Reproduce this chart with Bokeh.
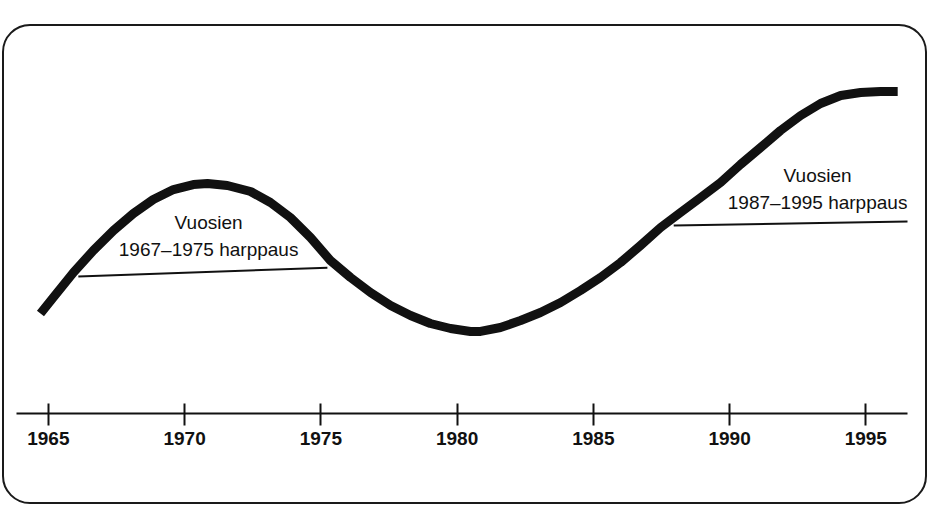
from bokeh.plotting import figure
from bokeh.models import FixedTicker, Range1d
from bokeh.core.properties import value
from bokeh.embed import file_html
from bokeh.resources import INLINE

# --- data ---
years = [1964.71, 1965.18, 1965.92, 1966.65, 1967.39, 1968.12, 1968.85, 1969.59,
         1970.32, 1970.84, 1971.57, 1972.42, 1973.15, 1973.88, 1974.62, 1975.35,
         1976.09, 1976.82, 1977.56, 1978.29, 1979.02, 1979.76, 1980.49, 1980.86,
         1981.59, 1982.33, 1983.06, 1983.80, 1984.53, 1985.26, 1986.00, 1986.73,
         1987.47, 1988.20, 1988.94, 1989.67, 1990.40, 1991.14, 1991.87, 1992.61,
         1993.34, 1994.08, 1994.81, 1995.54, 1996.17]
level = [26.81, 31.10, 37.80, 43.70, 49.06, 53.62, 57.37, 60.05,
         61.39, 61.66, 61.13, 59.52, 56.57, 52.55, 47.18, 41.02,
         36.46, 32.44, 28.95, 26.27, 24.13, 22.79, 21.98, 22.00,
         23.06, 24.93, 27.08, 29.76, 32.98, 36.46, 40.48, 45.04,
         49.87, 53.89, 57.91, 61.93, 66.76, 71.31, 75.87, 79.89,
         83.11, 85.25, 86.06, 86.33, 86.33]

leap1_years = [1966.10, 1975.24]
leap1_level = [36.7, 39.1]
leap2_years = [1987.95, 1996.60]
leap2_level = [50.4, 51.5]

tick_years = [1965, 1970, 1975, 1980, 1985, 1990, 1995]

label1 = ["Vuosien", "1967\u20131975 harppaus"]
label2 = ["Vuosien", "1987\u20131995 harppaus"]

FONT = "Liberation Sans"
INK = "#111111"

p = figure(width=925, height=480, output_backend="svg", toolbar_location=None,
           x_range=Range1d(1963.83, 1996.53), y_range=Range1d(0, 100),
           min_border_left=12, min_border_right=22, min_border_top=14,
           min_border_bottom=93)
p.styles = {"margin-left": "2px", "margin-top": "24px",
            "border": "2px solid #1a1a1a", "border-radius": "28px",
            "overflow": "hidden"}
p.background_fill_alpha = 0
p.border_fill_alpha = 0
p.outline_line_color = None
p.grid.visible = False
p.yaxis.visible = False

ax = p.xaxis[0]
ax.ticker = FixedTicker(ticks=tick_years)
ax.minor_tick_line_color = None
ax.major_tick_in = 10
ax.major_tick_out = 12
ax.axis_line_width = 2
ax.major_tick_line_width = 2
ax.axis_line_color = INK
ax.major_tick_line_color = INK
ax.major_label_text_font = FONT
ax.major_label_text_font_size = "19px"
ax.major_label_text_font_style = "bold"
ax.major_label_text_color = INK
ax.major_label_standoff = 6

p.line(years, level, line_width=9, line_color=INK, line_cap="butt", line_join="round")
p.line(leap1_years, leap1_level, line_width=2, line_color=INK)
p.line(leap2_years, leap2_level, line_width=2, line_color=INK)

p.text(x=[1970.88, 1970.88], y=[51.2, 44.0], text=label1,
       text_font=value(FONT), text_font_size="19px", text_color=INK,
       text_align="center", text_baseline="middle")
p.text(x=[1993.23, 1993.23], y=[63.8, 56.6], text=label2,
       text_font=value(FONT), text_font_size="19px", text_color=INK,
       text_align="center", text_baseline="middle")

open("out.html", "w").write(file_html(p, INLINE))
